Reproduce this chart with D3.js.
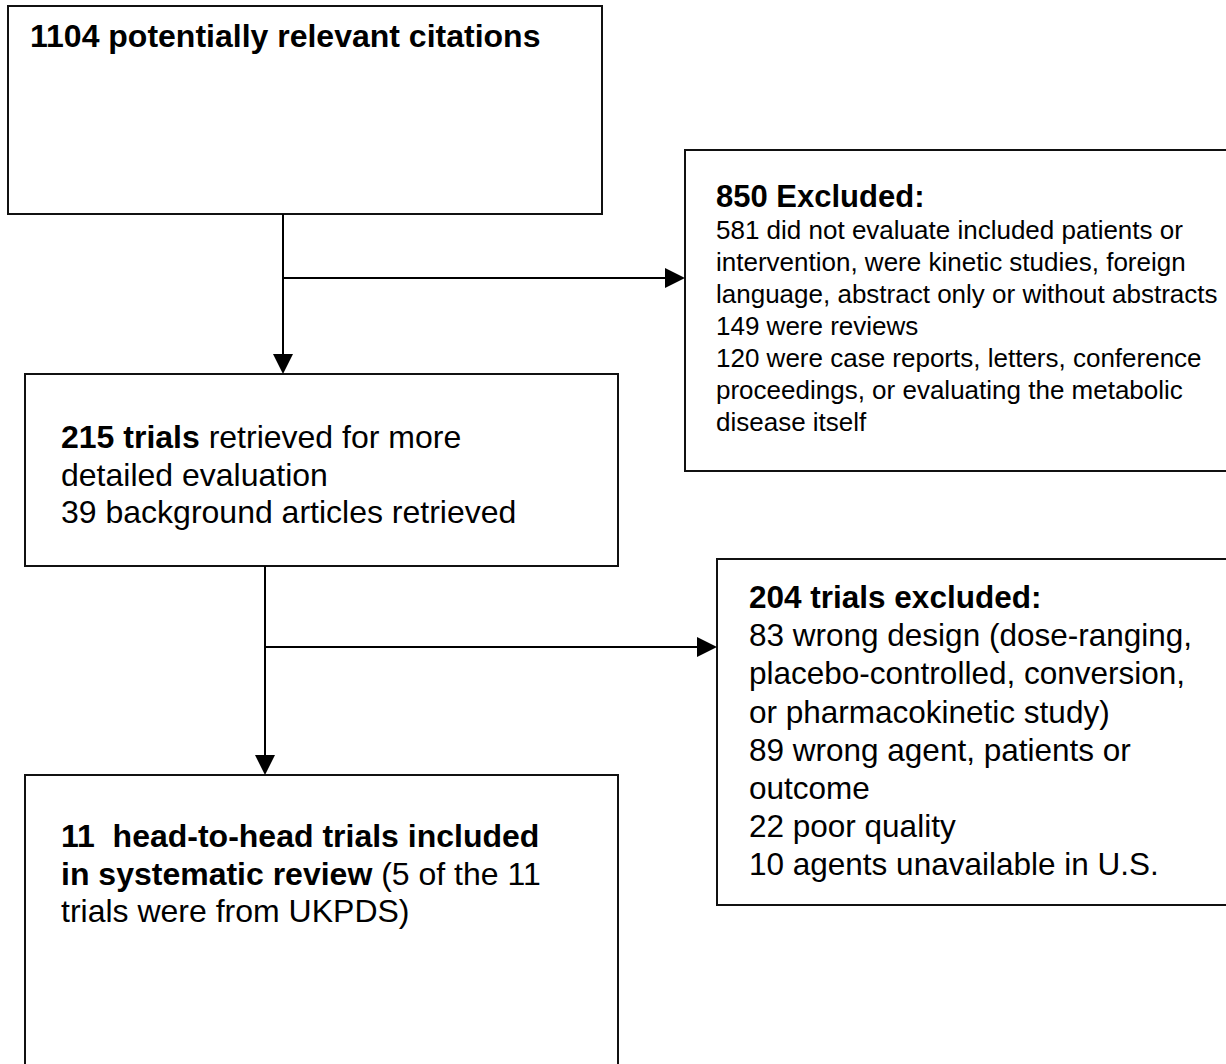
<!DOCTYPE html>
<html>
<head>
<meta charset="utf-8">
<script src="https://cdn.jsdelivr.net/npm/d3@7"></script>
<style>
  body { margin: 0; background: #fff; }
  text { font-family: "Liberation Sans", Arial, sans-serif; fill: #000; white-space: pre; }
</style>
</head>
<body>
<div id="chart"></div>
<script>
// each line is a list of [text, bold] runs
const citationLines = [
  [["1104 potentially relevant citations", true]]
];
const firstExclusionLines = [
  [["850 Excluded:", true]],
  [["581 did not evaluate included patients or", false]],
  [["intervention, were kinetic studies, foreign", false]],
  [["language, abstract only or without abstracts", false]],
  [["149 were reviews", false]],
  [["120 were case reports, letters, conference", false]],
  [["proceedings, or evaluating the metabolic", false]],
  [["disease itself", false]]
];
const retrievedLines = [
  [["215 trials", true], [" retrieved for more", false]],
  [["detailed evaluation", false]],
  [["39 background articles retrieved", false]]
];
const secondExclusionLines = [
  [["204 trials excluded:", true]],
  [["83 wrong design (dose-ranging,", false]],
  [["placebo-controlled, conversion,", false]],
  [["or pharmacokinetic study)", false]],
  [["89 wrong agent, patients or", false]],
  [["outcome", false]],
  [["22 poor quality", false]],
  [["10 agents unavailable in U.S.", false]]
];
const includedLines = [
  [["11  head-to-head trials included", true]],
  [["in systematic review", true], [" (5 of the 11", false]],
  [["trials were from UKPDS)", false]]
];

const width = 1226, height = 1064;

const svg = d3.select('#chart')
  .append('svg')
  .attr('width', width)
  .attr('height', height);

// layout of the boxes (pixels)
const boxes = [
  { lines: citationLines, x: 8, y: 6, w: 594, h: 208, tx: 30, ty: 47, size: 32, headSize: 32, lh: 38 },
  { lines: firstExclusionLines, x: 685, y: 150, w: 600, h: 321, tx: 716, ty: 207, size: 26, headSize: 31, lh: 32 },
  { lines: retrievedLines, x: 25, y: 374, w: 593, h: 192, tx: 61, ty: 448, size: 32, headSize: 32, lh: 37.5 },
  { lines: secondExclusionLines, x: 717, y: 559, w: 600, h: 346, tx: 749, ty: 608, size: 31.5, headSize: 31.5, lh: 38.2 },
  { lines: includedLines, x: 25, y: 775, w: 593, h: 400, tx: 61, ty: 847, size: 32, headSize: 32, lh: 37.7 }
];

// connectors: [x1, y1, x2, y2], arrow at the end
const connectors = [
  [283, 214, 283, 374],
  [283, 278, 685, 278],
  [265, 566, 265, 775],
  [265, 647, 717, 647]
];

// Draw boxes
const g = svg.selectAll('g.box')
  .data(boxes)
  .enter()
  .append('g')
  .attr('class', 'box');

g.append('rect')
  .attr('x', d => d.x)
  .attr('y', d => d.y)
  .attr('width', d => d.w)
  .attr('height', d => d.h)
  .attr('fill', '#fff')
  .attr('stroke', '#111')
  .attr('stroke-width', 2);

g.each(function (d) {
  const box = d3.select(this);
  d.lines.forEach((runs, i) => {
    const t = box.append('text')
      .attr('x', d.tx)
      .attr('y', d.ty + i * d.lh);
    runs.forEach(([str, bold]) => {
      t.append('tspan')
        .attr('font-weight', bold ? 'bold' : 'normal')
        .attr('font-size', (i === 0 && bold) ? d.headSize : d.size)
        .text(str);
    });
  });
});

// Draw connectors with arrow heads
const arrowLen = 20, arrowHalf = 10;
connectors.forEach(([x1, y1, x2, y2]) => {
  const dx = Math.sign(x2 - x1), dy = Math.sign(y2 - y1);
  const bx = x2 - dx * arrowLen, by = y2 - dy * arrowLen;
  svg.append('line')
    .attr('x1', x1).attr('y1', y1)
    .attr('x2', bx).attr('y2', by)
    .attr('stroke', '#000')
    .attr('stroke-width', 2);
  const pts = [
    [x2, y2],
    [bx + dy * arrowHalf, by + dx * arrowHalf],
    [bx - dy * arrowHalf, by - dx * arrowHalf]
  ];
  svg.append('path')
    .attr('d', d3.line()(pts) + 'Z')
    .attr('fill', '#000');
});
</script>
</body>
</html>
